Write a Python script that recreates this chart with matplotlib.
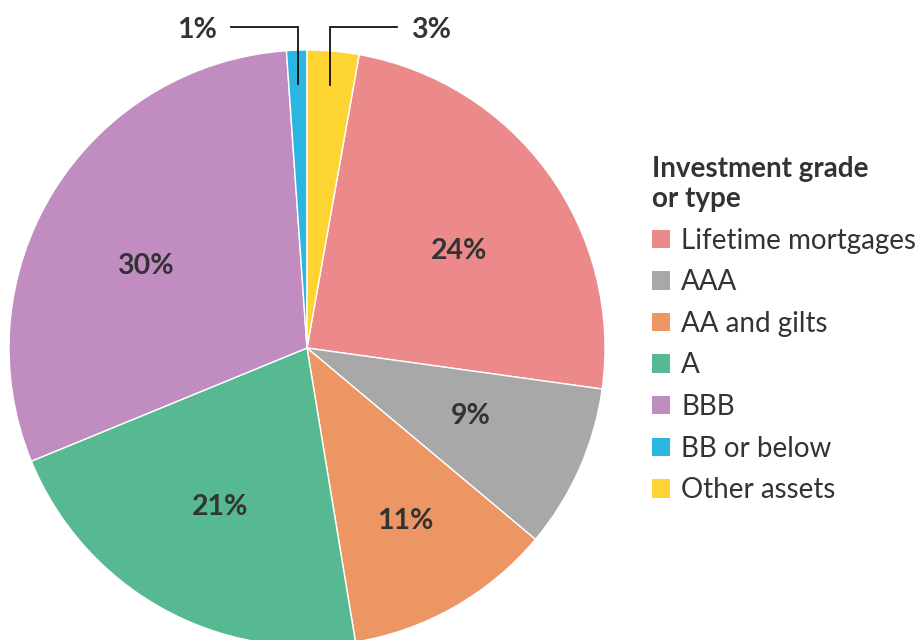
import numpy as np
import matplotlib
matplotlib.use("Agg")
import matplotlib.pyplot as plt

plt.rcParams['font.family'] = ['Lato', 'DejaVu Sans']

categories = ["Lifetime mortgages", "AAA", "AA and gilts", "A", "BBB", "BB or below", "Other assets"]
values = [24.4, 8.9, 11.3, 21.4, 30.1, 1.1, 2.8]
colors = ["#EC898A", "#A9A8A9", "#EB9663", "#56B991", "#C18DC0", "#2AB6E0", "#FDD432"]
legend_title = "Investment grade\nor type"
callout_categories = ["BB or below", "Other assets"]

W, H = 920, 640
fig = plt.figure(figsize=(W / 100, H / 100), dpi=100)
ax = fig.add_axes([0, 0, 1, 1])

cx, cy, R = 307, 640 - 348, 298
total = sum(values)
start = 90 - 360 * values[-1] / total

wedges, _ = ax.pie(values, colors=colors, startangle=start, counterclock=False,
                   center=(cx, cy), radius=R, frame=True,
                   wedgeprops=dict(edgecolor='white', linewidth=1.0))
ax.set_xlim(0, W)
ax.set_ylim(0, H)
ax.set_aspect('equal')
ax.axis('off')

# small label nudges (pixels) to follow the reference layout
nudge = {"Lifetime mortgages": (7, -8), "AAA": (0, 5), "AA and gilts": (1, -2),
         "A": (0, -3), "BBB": (-10, -12)}

textc = "#333333"
for w, cat, v in zip(wedges, categories, values):
    mid = np.deg2rad((w.theta1 + w.theta2) / 2)
    pct = f"{round(v / total * 100):.0f}%"
    if cat in callout_categories:
        x0 = cx + 0.885 * R * np.cos(mid)
        y0 = cy + 0.885 * R * np.sin(mid)
        ytop = cy + 1.077 * R
        sign = 1 if np.cos(mid) > 0 else -1
        x1 = x0 + sign * 67
        ax.plot([x0, x0, x1], [y0, ytop, ytop], color='#111111', lw=1.3, solid_joinstyle='miter')
        ax.text(x1 + sign * 34, ytop - 3, pct, ha='center', va='center',
                fontsize=20.5, fontweight='bold', color=textc)
    else:
        r = 0.6 * R if cat != "AA and gilts" else 0.66 * R
        dx, dy = nudge.get(cat, (0, 0))
        ax.text(cx + r * np.cos(mid) + dx, cy + r * np.sin(mid) + dy, pct, ha='center', va='center',
                fontsize=20.5, fontweight='bold', color=textc)

leg = ax.legend(wedges, categories, title=legend_title, loc='upper left',
                bbox_to_anchor=(652 / W, 1 - 156 / H), frameon=False,
                fontsize=20, title_fontproperties={'weight': 'bold', 'size': 20},
                handlelength=0.65, handleheight=0.65, handletextpad=0.4,
                labelspacing=0.56, borderaxespad=0, borderpad=0)
leg._legend_box.align = "left"
leg.get_title().set_linespacing(1.2)
for t in leg.get_texts():
    t.set_color(textc)
leg.get_title().set_color(textc)
for h in leg.legend_handles:
    h.set_edgecolor('none')

fig.savefig("out.png", dpi=100)
